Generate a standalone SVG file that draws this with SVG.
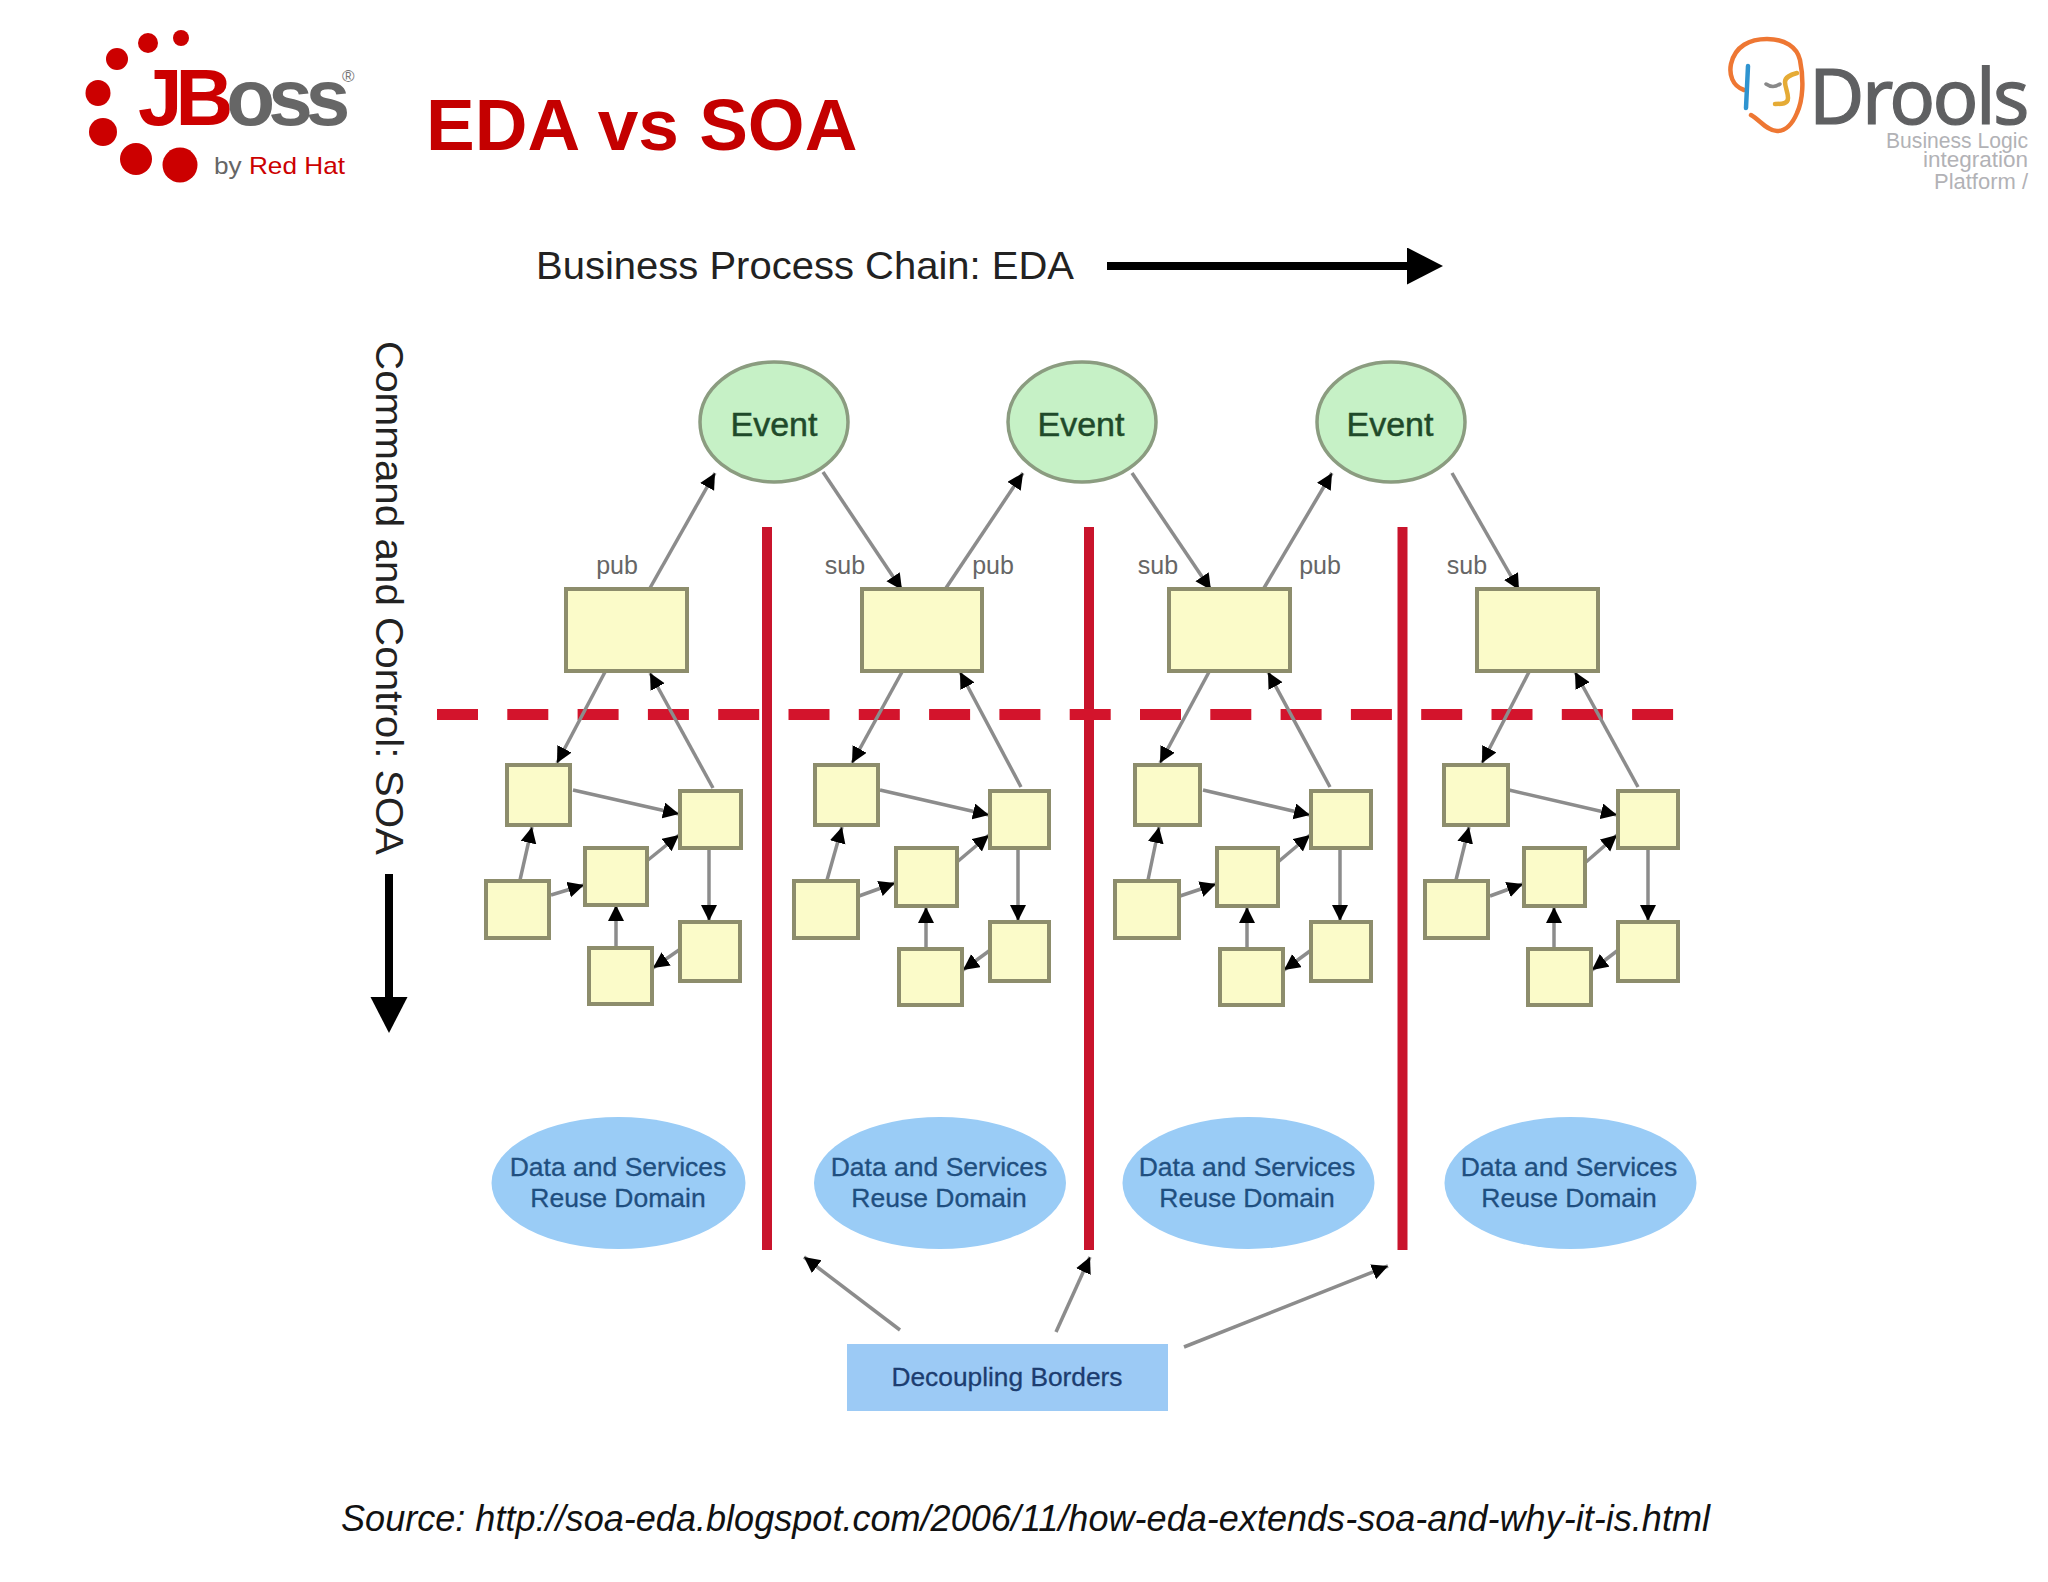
<svg xmlns="http://www.w3.org/2000/svg" width="2048" height="1582" viewBox="0 0 2048 1582">
<style>
text{font-family:"Liberation Sans",Arial,sans-serif}
.box{fill:#fbfbc9;stroke:#8d8d6c;stroke-width:4}
.evt{fill:#c6f1c6;stroke:#8b9c80;stroke-width:3.5}
.evtt{font-size:34px;fill:#1f4a2a;stroke:#1f4a2a;stroke-width:.5;text-anchor:middle}
.dom{fill:#9accf6}
.domt{font-size:26.5px;fill:#1f4f80;stroke:#1f4f80;stroke-width:.3;text-anchor:middle}
.lbl{font-size:25px;fill:#666;text-anchor:middle}
.con{stroke:#8c8c8c;stroke-width:3.5;fill:none;marker-end:url(#h)}
.bar{stroke:#c9142c;stroke-width:10;fill:none}
.big{stroke:#000;stroke-width:8;fill:none;marker-end:url(#bh)}
.draw{fill:none;stroke-linecap:round}
</style>
<defs>
<marker id="h" markerUnits="userSpaceOnUse" markerWidth="17" markerHeight="17" refX="16" refY="8" orient="auto"><path d="M0 0L16 8L0 16z" fill="#000"/></marker>
<marker id="bh" markerUnits="userSpaceOnUse" markerWidth="38" markerHeight="38" refX="1" refY="18.5" orient="auto"><path d="M0 0L36 18.5L0 37z" fill="#000"/></marker>
</defs>
<rect width="2048" height="1582" fill="#fff"/>

<g id="jboss-logo">
<g fill="#cc0000">
<ellipse cx="181" cy="38" rx="8" ry="8"/><ellipse cx="148" cy="43" rx="10" ry="10"/><ellipse cx="117" cy="59" rx="11" ry="11"/><ellipse cx="98" cy="93" rx="12.5" ry="13"/><ellipse cx="103" cy="132" rx="14" ry="14"/><ellipse cx="136" cy="159" rx="16" ry="16"/><ellipse cx="180" cy="165" rx="17.5" ry="17.5"/>
</g>
<text x="138" y="125" font-size="80" font-weight="700" letter-spacing="-7" fill="#cc0000">JB<tspan fill="#666">oss</tspan></text>
<text x="342" y="82" font-size="17" fill="#777">®</text>
<text x="214" y="174" font-size="24" fill="#666" textLength="131" lengthAdjust="spacingAndGlyphs">by <tspan fill="#cc0000">Red Hat</tspan></text>
</g>
<text id="title" x="426" y="150" font-size="73" font-weight="700" fill="#c40000">EDA vs SOA</text>

<g id="drools-logo">
<path class="draw" stroke="#ee7733" stroke-width="4.5" d="M1744 90C1732 86 1729 74 1731 64C1735 46 1750 39 1767 39C1785 39 1797 47 1800 60C1804 80 1803 100 1797 113C1792 125 1785 131 1777 131C1767 131 1760 120 1751 115"/>
<path class="draw" stroke="#2f94d0" stroke-width="4.500" d="M1748 66L1746 108"/>
<path class="draw" stroke="#888" stroke-width="3.500" d="M1766 84Q1773 89 1780 84"/>
<path class="draw" stroke="#e5ab35" stroke-width="4.500" d="M1797 73C1790 75 1785 77 1785 82C1785 87 1788 92 1788 98C1788 104 1782 104 1775 104"/>
<text x="1809" y="124" font-size="76" fill="#5f6062" stroke="#5f6062" stroke-width="1.200" letter-spacing="-2.600" style="font-family:'Noto Sans','Liberation Sans',sans-serif">Drools</text>
<g fill="#b2b2b6" font-size="21.500" style="font-family:Lato,'Liberation Sans',sans-serif" font-weight="300">
<text x="1886" y="148" textLength="142" lengthAdjust="spacingAndGlyphs">Business Logic</text>
<text x="1923" y="167" textLength="105" lengthAdjust="spacingAndGlyphs">integration</text>
<text x="1934" y="189" textLength="94" lengthAdjust="spacingAndGlyphs">Platform /</text>
</g>
</g>

<text id="eda-label" x="536" y="279" font-size="39" fill="#222" textLength="538" lengthAdjust="spacingAndGlyphs">Business Process Chain: EDA</text>
<text id="soa-label" transform="translate(375.500 341) rotate(90)" font-size="39" fill="#222" textLength="514" lengthAdjust="spacingAndGlyphs">Command and Control: SOA</text>

<g id="borders">
<path class="bar" d="M767 527V1250M1089 527V1250M1402.500 527V1250"/>
<path d="M437 714.500H1674" stroke="#d3142c" stroke-width="11" stroke-dasharray="41 29.300" fill="none"/>
</g>

<g id="connectors">
<path class="big" d="M1107 266H1408"/>
<path class="big" d="M389 874V998"/>
<path class="con" d="M650 588L715 473"/>
<path class="con" d="M823 472L902 590"/>
<path class="con" d="M946 588L1023 473"/>
<path class="con" d="M1132 473L1211 590"/>
<path class="con" d="M1264 588L1332 473"/>
<path class="con" d="M1452 473L1519 590"/>

<path class="con" d="M605 672L557 763"/><path class="con" d="M713 788L650 673"/><path class="con" d="M573 790L679 814"/><path class="con" d="M520 880L532 827"/><path class="con" d="M551 895L584 885"/><path class="con" d="M648 860L679 835"/><path class="con" d="M616 947V905"/><path class="con" d="M679 950L653 968"/><path class="con" d="M709 849V921"/>

<path class="con" d="M902 672L852 763"/><path class="con" d="M1021 787L960 672"/><path class="con" d="M880 790L989 815"/><path class="con" d="M827 880L842 827"/><path class="con" d="M859 896L895 883"/><path class="con" d="M957 862L989 835"/><path class="con" d="M926 948V907"/><path class="con" d="M989 951L963 970"/><path class="con" d="M1018 849V921"/>

<path class="con" d="M1209 672L1160 763"/><path class="con" d="M1330 787L1268 672"/><path class="con" d="M1203 790L1310 815"/><path class="con" d="M1148 880L1159 827"/><path class="con" d="M1180 896L1216 884"/><path class="con" d="M1278 862L1310 835"/><path class="con" d="M1247 948V907"/><path class="con" d="M1310 951L1284 970"/><path class="con" d="M1340 849V921"/>

<path class="con" d="M1529 672L1482 763"/><path class="con" d="M1638 787L1575 672"/><path class="con" d="M1509 790L1617 815"/><path class="con" d="M1456 880L1469 827"/><path class="con" d="M1490 896L1523 884"/><path class="con" d="M1586 862L1617 835"/><path class="con" d="M1554 948V907"/><path class="con" d="M1617 951L1592 970"/><path class="con" d="M1648 849V921"/>

<path class="con" d="M900 1330L804 1257"/>
<path class="con" d="M1056 1332L1090 1257"/>
<path class="con" d="M1184 1347L1388 1266"/>
</g>

<g id="labels">
<text class="lbl" x="617" y="574">pub</text>
<text class="lbl" x="845" y="574">sub</text>
<text class="lbl" x="993" y="574">pub</text>
<text class="lbl" x="1158" y="574">sub</text>
<text class="lbl" x="1320" y="574">pub</text>
<text class="lbl" x="1467" y="574">sub</text>
</g>

<g id="event-1"><ellipse class="evt" cx="774" cy="422" rx="74" ry="60"/><text class="evtt" x="774" y="436">Event</text></g>
<g id="event-2"><ellipse class="evt" cx="1082" cy="422" rx="74" ry="60"/><text class="evtt" x="1081" y="436">Event</text></g>
<g id="event-3"><ellipse class="evt" cx="1391" cy="422" rx="74" ry="60"/><text class="evtt" x="1390" y="436">Event</text></g>

<g id="service-1">
<rect class="box" x="566" y="589" width="121" height="82"/>
<rect class="box" x="507" y="765" width="63" height="60"/><rect class="box" x="680" y="791" width="61" height="57"/><rect class="box" x="585" y="848" width="62" height="57"/><rect class="box" x="486" y="881" width="63" height="57"/><rect class="box" x="589" y="948" width="63" height="56"/><rect class="box" x="680" y="922" width="60" height="59"/>
</g>
<g id="service-2">
<rect class="box" x="862" y="589" width="120" height="82"/>
<rect class="box" x="815" y="765" width="63" height="60"/><rect class="box" x="990" y="791" width="59" height="57"/><rect class="box" x="896" y="848" width="61" height="58"/><rect class="box" x="794" y="881" width="64" height="57"/><rect class="box" x="899" y="949" width="63" height="56"/><rect class="box" x="990" y="922" width="59" height="59"/>
</g>
<g id="service-3">
<rect class="box" x="1169" y="589" width="121" height="82"/>
<rect class="box" x="1135" y="765" width="65" height="60"/><rect class="box" x="1311" y="791" width="60" height="57"/><rect class="box" x="1217" y="848" width="61" height="58"/><rect class="box" x="1115" y="881" width="64" height="57"/><rect class="box" x="1220" y="949" width="63" height="56"/><rect class="box" x="1311" y="922" width="60" height="59"/>
</g>
<g id="service-4">
<rect class="box" x="1477" y="589" width="121" height="82"/>
<rect class="box" x="1444" y="765" width="64" height="60"/><rect class="box" x="1618" y="791" width="60" height="57"/><rect class="box" x="1524" y="848" width="61" height="58"/><rect class="box" x="1425" y="881" width="63" height="57"/><rect class="box" x="1528" y="949" width="63" height="56"/><rect class="box" x="1618" y="922" width="60" height="59"/>
</g>

<g id="domain-1"><ellipse class="dom" cx="618.500" cy="1183" rx="127" ry="66"/><text class="domt" x="618" y="1176">Data and Services</text><text class="domt" x="618" y="1207">Reuse Domain</text></g>
<g id="domain-2"><ellipse class="dom" cx="940" cy="1183" rx="126" ry="66"/><text class="domt" x="939" y="1176">Data and Services</text><text class="domt" x="939" y="1207">Reuse Domain</text></g>
<g id="domain-3"><ellipse class="dom" cx="1248.500" cy="1183" rx="126" ry="66"/><text class="domt" x="1247" y="1176">Data and Services</text><text class="domt" x="1247" y="1207">Reuse Domain</text></g>
<g id="domain-4"><ellipse class="dom" cx="1570.500" cy="1183" rx="126" ry="66"/><text class="domt" x="1569" y="1176">Data and Services</text><text class="domt" x="1569" y="1207">Reuse Domain</text></g>

<g id="decoupling"><rect x="847" y="1344" width="321" height="67" fill="#9ccaf5"/><text x="1007" y="1386" font-size="26" fill="#1c3d70" stroke="#1c3d70" stroke-width=".3" text-anchor="middle" textLength="231" lengthAdjust="spacingAndGlyphs">Decoupling Borders</text></g>

<text id="source" x="341" y="1531" font-size="37" font-style="italic" fill="#111" textLength="1369" lengthAdjust="spacingAndGlyphs">Source: http://soa-eda.blogspot.com/2006/11/how-eda-extends-soa-and-why-it-is.html</text>
</svg>
